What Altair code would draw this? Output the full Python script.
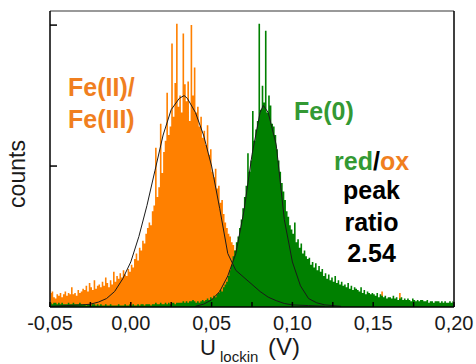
import altair as alt
import pandas as pd

# ---- histogram data: 1 mV bins from -0.050 V to 0.200 V (values = counts) ----
bin_lo = -0.05
bin_w = 0.001
orange_counts = [
    10, 11, 7, 6, 9, 8, 10, 7, 9, 11,          # -0.05
    8, 10, 9, 14, 9, 10, 8, 12, 10, 11,        # -0.04
    13, 12, 15, 11, 17, 14, 12, 19, 13, 15,    # -0.03
    16, 14, 18, 15, 21, 17, 14, 19, 16, 25,    # -0.02
    18, 22, 20, 24, 21, 26, 23, 22, 27, 25,    # -0.01
    30, 28, 34, 38, 33, 42, 40, 47, 45, 52,    # 0.00
    56, 60, 58, 68, 72, 113, 78, 85, 130, 95,  # 0.01
    110, 118, 152, 122, 128, 187, 135, 159, 201, 142,  # 0.02
    150, 138, 194, 158, 146, 160, 132, 200, 150, 170,  # 0.03
    138, 142, 128, 135, 120, 125, 115, 129, 108, 112,  # 0.04
    96, 92, 98, 84, 86, 74, 76, 66, 60, 56,    # 0.05
    52, 50, 46, 44, 40, 42, 36, 32, 28, 24,    # 0.06
    22, 19, 17, 14, 12, 10, 9, 8, 6, 5,        # 0.07
    5, 4, 4, 3, 3, 3, 2, 2, 2, 2,              # 0.08
    2, 2, 2, 1, 1, 1, 1, 1, 1, 1,              # 0.09
    1, 1, 1, 0, 1, 1, 0, 1, 1, 0,              # 0.10
    1, 0, 1, 1, 0, 1, 0, 1, 0, 1,              # 0.11
    0, 1, 1, 0, 1, 0, 1, 0, 1, 0,              # 0.12
    1, 0, 1, 0, 0, 1, 0, 1, 0, 1,              # 0.13
    0, 1, 0, 1, 0, 1, 1, 0, 1, 0,              # 0.14
    1, 1, 2, 1, 1, 11, 1, 1, 1, 2,             # 0.15
    1, 1, 1, 1, 1, 1, 10, 1, 1, 1,             # 0.16
    1, 0, 1, 0, 1, 1, 0, 1, 0, 1,              # 0.17
    0, 1, 0, 1, 0, 0, 1, 0, 1, 0,              # 0.18
    1, 0, 0, 1, 0, 1, 0, 0, 1, 0,              # 0.19
]
green_counts = [
    3, 2, 3, 3, 2, 3, 2, 3, 2, 2,              # -0.05
    2, 3, 2, 2, 3, 2, 2, 2, 3, 2,              # -0.04
    2, 2, 1, 2, 2, 1, 2, 2, 1, 2,              # -0.03
    1, 2, 1, 1, 2, 1, 1, 2, 1, 1,              # -0.02
    1, 1, 2, 1, 1, 1, 2, 1, 1, 2,              # -0.01
    1, 2, 1, 1, 2, 1, 2, 2, 1, 2,              # 0.00
    2, 2, 1, 2, 2, 3, 2, 2, 3, 2,              # 0.01
    2, 3, 2, 3, 2, 3, 3, 2, 3, 3,              # 0.02
    3, 3, 4, 3, 4, 3, 4, 4, 5, 4,              # 0.03
    3, 4, 3, 4, 5, 4, 5, 6, 5, 7,              # 0.04
    6, 8, 7, 9, 10, 12, 11, 14, 16, 18,        # 0.05
    22, 26, 30, 36, 40, 46, 50, 56, 62, 70,    # 0.06
    78, 86, 109, 96, 104, 139, 118, 126, 132, 201,  # 0.07
    140, 157, 145, 196, 138, 150, 143, 130, 128, 122,  # 0.08
    112, 104, 96, 88, 82, 76, 68, 64, 58, 55,  # 0.09
    52, 60, 46, 48, 42, 45, 38, 40, 36, 34,    # 0.10
    35, 30, 32, 28, 31, 26, 29, 25, 27, 22,    # 0.11
    24, 20, 23, 19, 21, 18, 22, 17, 19, 16,    # 0.12
    18, 15, 16, 14, 17, 13, 15, 12, 14, 13,    # 0.13
    12, 11, 14, 10, 12, 9, 11, 10, 9, 10,      # 0.14
    9, 8, 10, 7, 9, 8, 7, 8, 6, 7,             # 0.15
    7, 6, 8, 6, 7, 5, 6, 7, 5, 6,              # 0.16
    5, 6, 5, 4, 6, 5, 4, 5, 4, 5,              # 0.17
    5, 4, 4, 5, 3, 4, 4, 3, 4, 4,              # 0.18
    4, 3, 4, 3, 4, 3, 3, 4, 3, 4,              # 0.19
]

# ---- fitted Gaussian curves ----
orange_fit_u = [-0.05, -0.04, -0.03, -0.025, -0.02, -0.015, -0.01, -0.005, 0.0, 0.005,
                0.01, 0.015, 0.02, 0.025, 0.03, 0.033, 0.035, 0.04, 0.045, 0.05,
                0.055, 0.06, 0.065, 0.07, 0.075, 0.08, 0.085, 0.09, 0.095, 0.1, 0.11, 0.12]
orange_fit_c = [0.5, 1, 1.5, 2, 3.5, 6, 11, 20, 32, 50,
                72, 97, 122, 140, 148, 150, 148, 138, 122, 100,
                70, 38, 26, 21, 16, 11, 7, 4.5, 2.5, 1.5, 1, 0.5]
green_fit_u = [0.04, 0.045, 0.05, 0.055, 0.06, 0.065, 0.07, 0.075, 0.08, 0.082,
               0.085, 0.09, 0.095, 0.1, 0.105, 0.11, 0.115, 0.12, 0.13]
green_fit_c = [0.5, 2, 5, 11, 22, 38, 68, 108, 138, 143,
               138, 115, 62, 32, 15, 6, 3, 1.5, 0.5]

x_tick_values = [-0.05, -0.025, 0.0, 0.025, 0.05, 0.075, 0.1, 0.125, 0.15, 0.175, 0.2]
x_label_values = [-0.05, 0.0, 0.05, 0.1, 0.15, 0.2]
x_label_texts = ["-0,05", "0,00", "0,05", "0,10", "0,15", "0,20"]
y_tick_values = [100, 200]

ORANGE = "#FF8000"
GREEN = "#008000"
ORANGE_TXT = "#F07F1F"
GREEN_TXT = "#339933"
INK = "#1a1a1a"
FONT = "Liberation Sans"

W, H = 404, 296

centers = [round(bin_lo + bin_w * (i + 0.5), 4) for i in range(len(orange_counts))]
hist_df = pd.DataFrame({"u": centers, "orange": orange_counts, "green": green_counts})
ofit_df = pd.DataFrame({"u": orange_fit_u, "c": orange_fit_c})
gfit_df = pd.DataFrame({"u": green_fit_u, "c": green_fit_c})
xt_df = pd.DataFrame({"t": x_tick_values})
xl_df = pd.DataFrame({"v": x_label_values, "s": x_label_texts})
yt_df = pd.DataFrame({"t": y_tick_values})
dummy = pd.DataFrame({"d": [0]})

xs = alt.Scale(domain=[-0.05, 0.20], nice=False, zero=False)
ys = alt.Scale(domain=[0, 210], nice=False, zero=True)


def X(field):
    return alt.X(field, scale=xs, axis=None, title=None)


def Y(field):
    return alt.Y(field, scale=ys, axis=None, title=None)


orange_area = alt.Chart(hist_df).mark_area(interpolate="step", color=ORANGE).encode(
    x=X("u:Q"), y=Y("orange:Q"))
green_area = alt.Chart(hist_df).mark_area(interpolate="step", color=GREEN).encode(
    x=X("u:Q"), y=Y("green:Q"))
ofit = alt.Chart(ofit_df).mark_line(color=INK, strokeWidth=1).encode(x=X("u:Q"), y=Y("c:Q"))
gfit = alt.Chart(gfit_df).mark_line(color=INK, strokeWidth=1).encode(x=X("u:Q"), y=Y("c:Q"))

# frame and axis lines
top_border = alt.Chart(dummy).mark_rule(color="#777777", strokeWidth=1.5).encode(
    x=alt.value(0), x2=alt.value(W), y=alt.value(0))
right_border = alt.Chart(dummy).mark_rule(color="black", strokeWidth=1.5).encode(
    x=alt.value(W), y=alt.value(0), y2=alt.value(H))
left_axis = alt.Chart(dummy).mark_rule(color="black", strokeWidth=1.5).encode(
    x=alt.value(0), y=alt.value(0), y2=alt.value(H))
bottom_axis = alt.Chart(dummy).mark_rule(color="black", strokeWidth=1.5).encode(
    x=alt.value(0), x2=alt.value(W), y=alt.value(H))

xticks = alt.Chart(xt_df).mark_rule(color="black", strokeWidth=1.5).encode(
    x=X("t:Q"), y=alt.value(H), y2=alt.value(H - 5))
yticks = alt.Chart(yt_df).mark_rule(color="black", strokeWidth=1.5).encode(
    y=Y("t:Q"), x=alt.value(0), x2=alt.value(7))
xlabels = alt.Chart(xl_df).mark_text(
    font=FONT, fontSize=20, color=INK, align="center", baseline="alphabetic").encode(
    x=X("v:Q"), y=alt.value(H + 23), text="s:N")


def label(txt, px, py, color, size=25, bold=True, align="left", angle=0):
    return alt.Chart(dummy).mark_text(
        text=txt, font=FONT, fontSize=size, fontWeight="bold" if bold else "normal",
        color=color, align=align, baseline="alphabetic", angle=angle,
    ).encode(x=alt.value(px), y=alt.value(py))


texts = [
    label("Fe(II)/", 18, 85, ORANGE_TXT),
    label("Fe(III)", 18, 116.5, ORANGE_TXT),
    label("Fe(0)", 244, 109, GREEN_TXT),
    label("red", 284, 159, GREEN_TXT),
    label("/", 322.9, 159, "black"),
    label("ox", 329.9, 159, ORANGE_TXT),
    label("peak", 321.5, 188, "black", align="center"),
    label("ratio", 321.5, 219.5, "black", align="center"),
    label("2.54", 321.5, 251, "black", align="center"),
    label("counts", -25, 163, INK, size=23, bold=False, align="center", angle=270),
    label("U", 150, 344, INK, size=22, bold=False),
    label("lockin", 170, 351, INK, size=15, bold=False),
    label("(V)", 218, 344, INK, size=24, bold=False),
]

chart = alt.layer(
    orange_area, green_area, ofit, gfit, xticks, yticks,
    top_border, right_border, left_axis, bottom_axis, xlabels, *texts
).properties(
    width=W, height=H,
    autosize=alt.AutoSizeParams(type="none"),
    padding={"left": 50, "top": 11, "right": 22, "bottom": 57},
).configure_view(strokeWidth=0)

chart.save("out.html", embed_options={"renderer": "svg", "actions": False})
